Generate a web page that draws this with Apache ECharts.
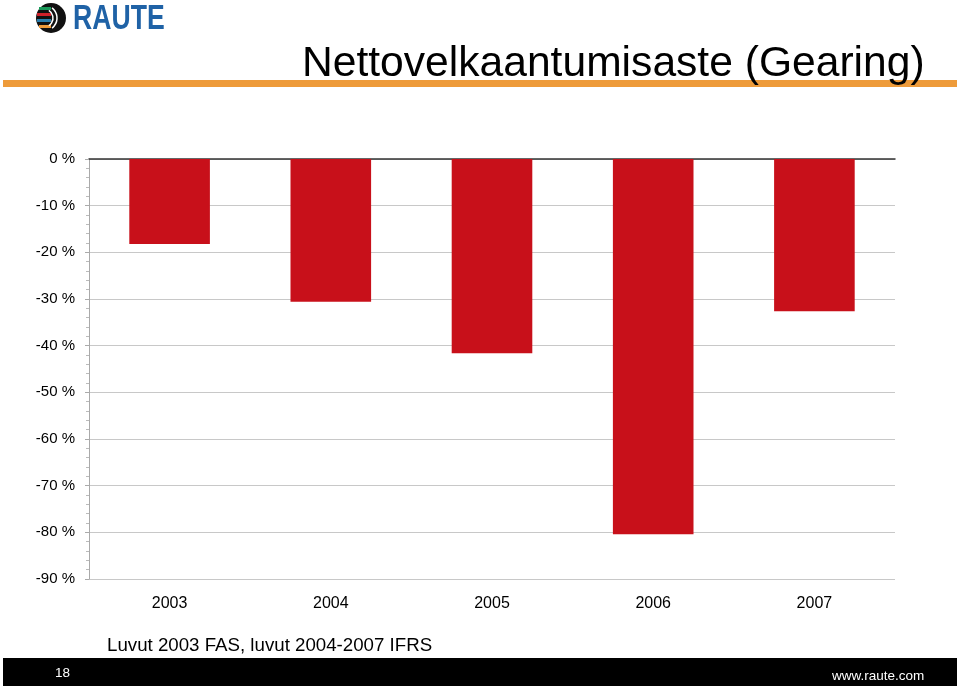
<!DOCTYPE html>
<html><head><meta charset="utf-8">
<script src="https://cdn.jsdelivr.net/npm/echarts@6/dist/echarts.min.js"></script>
<style>html,body{margin:0;padding:0;background:#fff}#c{width:960px;height:686px}</style>
</head><body><div id="c"></div>
<script>
const categories = ['2003','2004','2005','2006','2007'];
const gearing = [-18.2, -30.6, -41.6, -80.4, -32.6];
const titleText = 'Nettovelkaantumisaste (Gearing)';
const noteText = 'Luvut 2003 FAS, luvut 2004-2007 IFRS';
const pageNo = '18';
const webText = 'www.raute.com';

const chart = echarts.init(document.getElementById('c'));
const FF = '"Liberation Sans", Arial, sans-serif';
chart.setOption({
  animation: false,
  backgroundColor: '#fff',
  grid: {left: 89, right: 65, top: 159, bottom: 107},
  xAxis: [{
    type: 'category', data: categories, position: 'bottom',
    axisLine: {show: false, onZero: false}, axisTick: {show: false},
    axisLabel: {margin: 17, fontSize: 16, color: '#000', fontFamily: FF}
  }, {
    type: 'category', data: categories, position: 'top',
    axisLine: {show: true, lineStyle: {color: '#333', width: 1.5}},
    axisTick: {show: false}, axisLabel: {show: false}
  }],
  yAxis: {
    type: 'value', min: -90, max: 0, interval: 10,
    axisLine: {show: true, lineStyle: {color: '#aaa'}},
    axisTick: {show: true, length: 4, lineStyle: {color: '#aaa'}},
    minorTick: {show: true, splitNumber: 5, length: 3, lineStyle: {color: '#bbb'}},
    splitLine: {lineStyle: {color: '#c8c8c8', width: 1.2}},
    axisLabel: {margin: 14, fontSize: 15, color: '#000', fontFamily: FF, formatter: '{value} %'}
  },
  series: [{
    type: 'bar', data: gearing, barWidth: '50%',
    itemStyle: {color: '#C8101A'}
  }],
  graphic: [
    {type: 'rect', shape: {x: 3, y: 80, width: 954, height: 7}, style: {fill: '#EE9B3A'}},
    {type: 'text', left: 302, top: 43, style: {text: titleText, font: '42.6px ' + FF, fill: '#000'}},
    {type: 'text', left: 107, top: 636, style: {text: noteText, font: '18.7px ' + FF, fill: '#000'}},
    {type: 'rect', shape: {x: 3, y: 658, width: 954, height: 28}, style: {fill: '#000'}},
    {type: 'text', left: 55, top: 666, style: {text: pageNo, font: '13.5px ' + FF, fill: '#fff'}},
    {type: 'text', left: 832, top: 669, style: {text: webText, font: '13.5px ' + FF, fill: '#fff'}},
    // logo
    {type: 'circle', shape: {cx: 51, cy: 18, r: 15}, style: {fill: '#111'}},
    {type: 'rect', shape: {x: 39, y: 7, width: 12, height: 3}, style: {fill: '#1a9a5a'}},
    {type: 'rect', shape: {x: 37, y: 13, width: 14, height: 3}, style: {fill: '#d0202a'}},
    {type: 'rect', shape: {x: 37, y: 19, width: 14, height: 3}, style: {fill: '#2a7fae'}},
    {type: 'rect', shape: {x: 39, y: 25, width: 12, height: 3}, style: {fill: '#ee9b3a'}},
    {type: 'arc', shape: {cx: 44, cy: 18, r: 13, startAngle: -0.9, endAngle: 0.9}, style: {stroke: '#fff', lineWidth: 1.5, fill: null}},
    {type: 'arc', shape: {cx: 44, cy: 18, r: 9, startAngle: -1.0, endAngle: 1.0}, style: {stroke: '#fff', lineWidth: 1.5, fill: null}},
    {type: 'text', x: 73, y: 2, scaleX: 0.76, style: {text: 'RAUTE', font: 'bold 35px "Liberation Sans", sans-serif', fill: '#1F62A6'}}
  ]
});
</script></body></html>
